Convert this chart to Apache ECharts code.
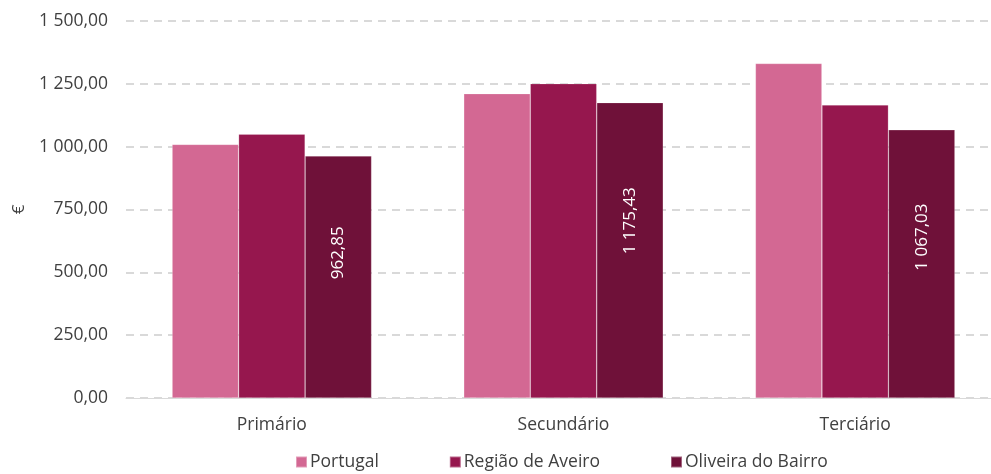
<!DOCTYPE html>
<html><head><meta charset="utf-8">
<script src="https://cdn.jsdelivr.net/npm/echarts@6/dist/echarts.min.js"></script>
<style>html,body{margin:0;padding:0;background:#fff;overflow:hidden}#c{width:1001px;height:474px}</style>
</head><body><div id="c"></div>
<script>
var categories = ['Primário', 'Secundário', 'Terciário'];
var seriesNames = ['Portugal', 'Região de Aveiro', 'Oliveira do Bairro'];
var portugal = [1009, 1211, 1331];
var regiaoAveiro = [1050, 1251, 1166];
var oliveiraBairro = [962.85, 1175.43, 1067.03];
var colors = ['#D36893', '#96174E', '#6F1139'];

function fmt(v) {
  var s = Number(v).toFixed(2).split('.');
  var i = s[0].replace(/\B(?=(\d{3})+(?!\d))/g, ' ');
  return i + ',' + s[1];
}
var FONT = '"Open Sans", "Noto Sans", sans-serif';
var chart = echarts.init(document.getElementById('c'));
var data = [portugal, regiaoAveiro, oliveiraBairro];
chart.setOption({
  animation: false,
  color: colors,
  textStyle: { fontFamily: FONT },
  grid: { left: 126, top: 21, right: 0, bottom: 76 },
  legend: {
    bottom: -2, left: 290, itemWidth: 11, itemHeight: 11, itemGap: 70,
    icon: 'rect',
    textStyle: { fontFamily: FONT, fontSize: 17.5, color: '#404040', padding: [0,0,0,-2] },
    data: seriesNames
  },
  xAxis: {
    type: 'category', data: categories,
    axisLine: { lineStyle: { color: '#d9d9d9', width: 1 } },
    axisTick: { show: false },
    axisLabel: { fontFamily: FONT, fontSize: 17.5, color: '#404040', margin: 18 }
  },
  yAxis: {
    type: 'value', min: 0, max: 1500, interval: 250,
    name: '€', nameLocation: 'middle', nameGap: 97, nameRotate: 90,
    nameTextStyle: { fontFamily: FONT, fontSize: 17, color: '#404040' },
    axisLine: { show: false }, axisTick: { show: false },
    axisLabel: { fontFamily: FONT, fontSize: 17.5, color: '#404040', margin: 18, formatter: fmt },
    splitLine: { lineStyle: { color: '#d9d9d9', type: [8, 6], width: 2 } }
  },
  series: data.map(function (d, k) {
    return {
      name: seriesNames[k], type: 'bar', data: d,
      barWidth: 66.5, barGap: '0%',
      itemStyle: { color: colors[k], borderColor: 'rgba(255,255,255,0.35)', borderWidth: 0.6 },
      label: k === 2 ? {
        show: true, position: ['50%', '40%'], rotate: 90,
        align: 'center', verticalAlign: 'middle',
        color: '#ffffff', fontFamily: FONT, fontSize: 17,
        formatter: function (p) { return fmt(p.value); }
      } : { show: false }
    };
  })
});
</script></body></html>
